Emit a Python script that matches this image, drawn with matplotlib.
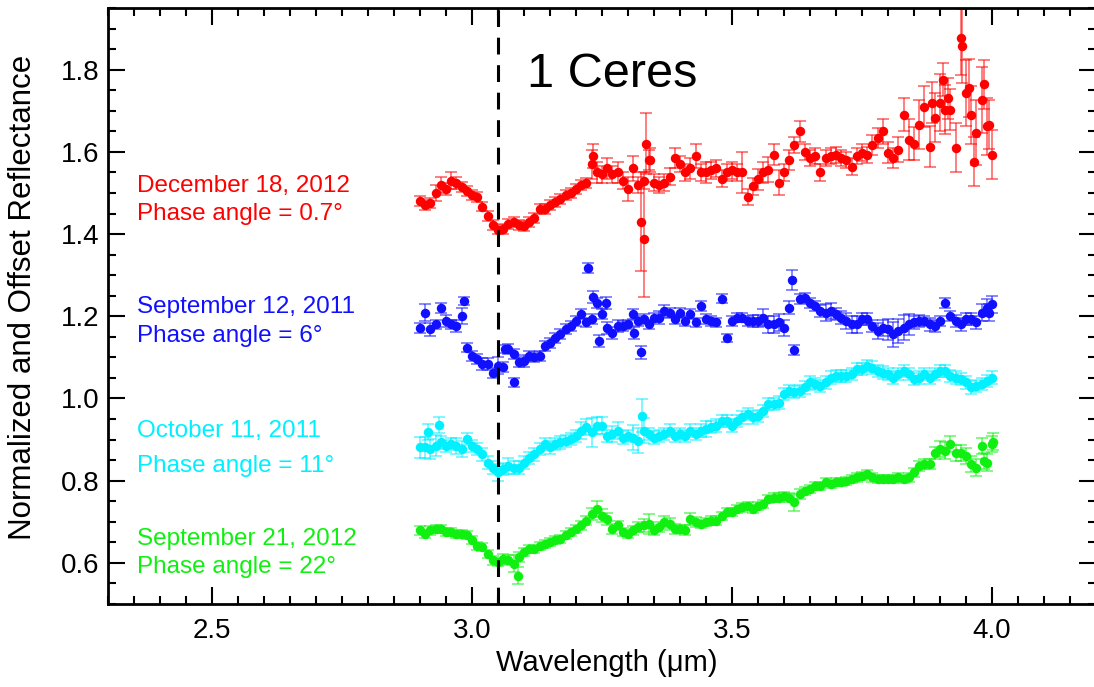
import matplotlib
matplotlib.use('Agg')
import matplotlib.pyplot as plt
from matplotlib.ticker import MultipleLocator

plt.rcParams['font.family'] = ['Liberation Sans', 'DejaVu Sans']

# Wavelength grid (micron)
wavelength = [2.90, 2.91, 2.92, 2.93, 2.94, 2.95, 2.96, 2.97, 2.98, 2.99,
              3.00, 3.01, 3.02, 3.03, 3.04, 3.05, 3.06, 3.07, 3.08, 3.09,
              3.10, 3.11, 3.12, 3.13, 3.14, 3.15, 3.16, 3.17, 3.18, 3.19,
              3.20, 3.21, 3.22, 3.23, 3.24, 3.25, 3.26, 3.27, 3.28, 3.29,
              3.30, 3.31, 3.32, 3.33, 3.34, 3.35, 3.36, 3.37, 3.38, 3.39,
              3.40, 3.41, 3.42, 3.43, 3.44, 3.45, 3.46, 3.47, 3.48, 3.49,
              3.50, 3.51, 3.52, 3.53, 3.54, 3.55, 3.56, 3.57, 3.58, 3.59,
              3.60, 3.61, 3.62, 3.63, 3.64, 3.65, 3.66, 3.67, 3.68, 3.69,
              3.70, 3.71, 3.72, 3.73, 3.74, 3.75, 3.76, 3.77, 3.78, 3.79,
              3.80, 3.81, 3.82, 3.83, 3.84, 3.85, 3.86, 3.87, 3.88, 3.89,
              3.90, 3.91, 3.92, 3.93, 3.94, 3.95, 3.96, 3.97, 3.98, 3.99, 4.00]

# December 18, 2012 (red)
dec2012 = [1.480, 1.470, 1.475, 1.500, 1.520, 1.510, 1.530, 1.525, 1.515, 1.505,
           1.495, 1.490, 1.467, 1.443, 1.423, 1.411, 1.413, 1.425, 1.430, 1.423,
           1.420, 1.430, 1.440, 1.460, 1.460, 1.470, 1.478, 1.485, 1.495, 1.500,
           1.510, 1.520, 1.525, 1.570, 1.550, 1.545, 1.560, 1.545, 1.550, 1.530,
           1.510, 1.560, 1.520, 1.530, 1.580, 1.525, 1.520, 1.525, 1.540, 1.585,
           1.570, 1.550, 1.560, 1.590, 1.550, 1.550, 1.555, 1.560, 1.535, 1.550,
           1.555, 1.550, 1.550, 1.490, 1.516, 1.533, 1.550, 1.557, 1.593, 1.525,
           1.550, 1.580, 1.617, 1.650, 1.600, 1.585, 1.590, 1.550, 1.585, 1.590,
           1.593, 1.585, 1.580, 1.564, 1.590, 1.598, 1.593, 1.617, 1.634, 1.650,
           1.598, 1.585, 1.605, 1.690, 1.630, 1.620, 1.666, 1.710, 1.613, 1.683,
           1.720, 1.703, 1.703, 1.610, 1.877, 1.743, 1.690, 1.647, 1.727, 1.662, 1.593]
dec2012_err = [0.012, 0.012, 0.012, 0.020, 0.020, 0.015, 0.020, 0.015, 0.012, 0.012,
               0.012, 0.012, 0.012, 0.012, 0.012, 0.012, 0.012, 0.012, 0.012, 0.012,
               0.012, 0.012, 0.012, 0.012, 0.012, 0.012, 0.012, 0.012, 0.012, 0.012,
               0.012, 0.012, 0.012, 0.035, 0.025, 0.020, 0.025, 0.020, 0.025, 0.020,
               0.030, 0.030, 0.020, 0.020, 0.025, 0.020, 0.020, 0.020, 0.020, 0.025,
               0.020, 0.020, 0.025, 0.030, 0.020, 0.025, 0.020, 0.020, 0.020, 0.020,
               0.020, 0.020, 0.050, 0.020, 0.020, 0.025, 0.025, 0.030, 0.025, 0.030,
               0.020, 0.025, 0.020, 0.025, 0.020, 0.020, 0.020, 0.020, 0.020, 0.020,
               0.020, 0.020, 0.020, 0.020, 0.020, 0.020, 0.020, 0.025, 0.025, 0.030,
               0.025, 0.025, 0.030, 0.040, 0.050, 0.040, 0.060, 0.050, 0.050, 0.060,
               0.070, 0.060, 0.050, 0.060, 0.090, 0.080, 0.070, 0.080, 0.080, 0.070, 0.060]
dec2012_extra_wl = [3.232, 3.325, 3.330, 3.334, 3.342, 3.885, 3.905, 3.915, 3.942, 3.955, 3.965, 3.985, 3.995]
dec2012_extra = [1.590, 1.430, 1.387, 1.620, 1.580, 1.720, 1.776, 1.730, 1.857, 1.756, 1.576, 1.764, 1.666]
dec2012_extra_err = [0.030, 0.120, 0.140, 0.075, 0.030, 0.050, 0.040, 0.050, 0.090, 0.070, 0.060, 0.060, 0.060]

# September 12, 2011 (blue)
sep2011 = [1.171, 1.209, 1.168, 1.180, 1.220, 1.188, 1.180, 1.176, 1.201, 1.124,
           1.104, 1.096, 1.084, 1.084, 1.063, 1.080, 1.076, 1.121, 1.108, 1.088,
           1.092, 1.104, 1.100, 1.104, 1.128, 1.136, 1.148, 1.156, 1.168, 1.176,
           1.188, 1.205, 1.185, 1.193, 1.233, 1.205, 1.172, 1.160, 1.176, 1.176,
           1.180, 1.205, 1.188, 1.193, 1.180, 1.197, 1.197, 1.213, 1.209, 1.193,
           1.209, 1.188, 1.205, 1.185, 1.225, 1.193, 1.188, 1.185, 1.243, 1.148,
           1.188, 1.197, 1.197, 1.188, 1.188, 1.188, 1.197, 1.180, 1.180, 1.185,
           1.172, 1.221, 1.117, 1.241, 1.245, 1.233, 1.225, 1.213, 1.209, 1.213,
           1.205, 1.197, 1.188, 1.180, 1.180, 1.193, 1.193, 1.176, 1.164, 1.172,
           1.168, 1.156, 1.164, 1.172, 1.180, 1.185, 1.188, 1.188, 1.180, 1.176,
           1.188, 1.233, 1.201, 1.188, 1.180, 1.193, 1.193, 1.185, 1.209, 1.221, 1.229]
sep2011_err = [0.012, 0.020, 0.015, 0.012, 0.012, 0.015, 0.012, 0.015, 0.020, 0.012,
               0.012, 0.012, 0.015, 0.015, 0.012, 0.020, 0.012, 0.012, 0.012, 0.012,
               0.015, 0.012, 0.012, 0.012, 0.012, 0.012, 0.012, 0.012, 0.012, 0.012,
               0.012, 0.012, 0.012, 0.012, 0.012, 0.012, 0.015, 0.015, 0.015, 0.012,
               0.012, 0.012, 0.012, 0.012, 0.012, 0.012, 0.015, 0.015, 0.012, 0.012,
               0.012, 0.012, 0.012, 0.012, 0.012, 0.012, 0.012, 0.012, 0.010, 0.010,
               0.012, 0.012, 0.012, 0.012, 0.015, 0.015, 0.020, 0.020, 0.020, 0.020,
               0.020, 0.015, 0.012, 0.012, 0.012, 0.012, 0.012, 0.015, 0.020, 0.020,
               0.015, 0.015, 0.020, 0.020, 0.020, 0.015, 0.015, 0.015, 0.020, 0.020,
               0.025, 0.030, 0.030, 0.030, 0.025, 0.015, 0.015, 0.012, 0.015, 0.015,
               0.012, 0.012, 0.012, 0.015, 0.015, 0.015, 0.015, 0.015, 0.020, 0.020, 0.020]
sep2011_extra_wl = [2.985, 3.063, 3.080, 3.224, 3.232, 3.245, 3.258, 3.312, 3.325, 3.615, 3.995]
sep2011_extra = [1.237, 1.121, 1.039, 1.317, 1.247, 1.140, 1.233, 1.160, 1.112, 1.288, 1.209]
sep2011_extra_err = [0.010, 0.010, 0.010, 0.012, 0.015, 0.015, 0.015, 0.015, 0.015, 0.025, 0.020]

# October 11, 2011 (cyan)
oct2011 = [0.881, 0.881, 0.877, 0.885, 0.893, 0.885, 0.889, 0.885, 0.877, 0.901,
           0.885, 0.877, 0.864, 0.844, 0.832, 0.820, 0.828, 0.836, 0.832, 0.832,
           0.844, 0.856, 0.864, 0.877, 0.889, 0.881, 0.889, 0.893, 0.897, 0.901,
           0.909, 0.922, 0.930, 0.918, 0.934, 0.934, 0.909, 0.914, 0.922, 0.905,
           0.909, 0.905, 0.897, 0.922, 0.914, 0.905, 0.909, 0.914, 0.922, 0.909,
           0.914, 0.909, 0.922, 0.914, 0.922, 0.926, 0.930, 0.934, 0.946, 0.946,
           0.934, 0.946, 0.954, 0.962, 0.954, 0.958, 0.970, 0.986, 0.986, 0.990,
           1.011, 1.019, 1.015, 1.019, 1.027, 1.039, 1.035, 1.031, 1.039, 1.051,
           1.055, 1.055, 1.055, 1.059, 1.071, 1.071, 1.079, 1.075, 1.067, 1.063,
           1.059, 1.051, 1.059, 1.067, 1.059, 1.047, 1.051, 1.059, 1.051, 1.059,
           1.067, 1.067, 1.055, 1.051, 1.047, 1.039, 1.027, 1.031, 1.035, 1.043, 1.051]
oct2011_err = [0.025, 0.025, 0.025, 0.025, 0.015, 0.015, 0.015, 0.020, 0.020, 0.015,
               0.015, 0.015, 0.015, 0.015, 0.015, 0.020, 0.015, 0.020, 0.015, 0.015,
               0.015, 0.015, 0.015, 0.015, 0.015, 0.015, 0.015, 0.015, 0.015, 0.015,
               0.015, 0.020, 0.020, 0.035, 0.020, 0.020, 0.015, 0.020, 0.020, 0.015,
               0.015, 0.030, 0.030, 0.030, 0.015, 0.015, 0.015, 0.015, 0.015, 0.015,
               0.015, 0.015, 0.015, 0.015, 0.015, 0.020, 0.015, 0.015, 0.015, 0.015,
               0.015, 0.015, 0.015, 0.015, 0.015, 0.015, 0.015, 0.015, 0.015, 0.015,
               0.015, 0.015, 0.015, 0.015, 0.015, 0.015, 0.015, 0.015, 0.015, 0.015,
               0.015, 0.015, 0.015, 0.015, 0.015, 0.015, 0.015, 0.015, 0.015, 0.015,
               0.015, 0.015, 0.015, 0.015, 0.015, 0.015, 0.015, 0.015, 0.015, 0.015,
               0.015, 0.015, 0.015, 0.015, 0.015, 0.015, 0.015, 0.015, 0.015, 0.015, 0.015]
oct2011_extra_wl = [2.915, 2.937, 3.326]
oct2011_extra = [0.918, 0.935, 0.958]
oct2011_extra_err = [0.020, 0.020, 0.040]

# September 21, 2012 (green)
sep2012 = [0.679, 0.671, 0.679, 0.683, 0.683, 0.675, 0.675, 0.671, 0.671, 0.667,
           0.655, 0.642, 0.638, 0.622, 0.606, 0.602, 0.610, 0.606, 0.598, 0.614,
           0.626, 0.634, 0.634, 0.642, 0.646, 0.650, 0.655, 0.659, 0.667, 0.675,
           0.683, 0.691, 0.703, 0.719, 0.731, 0.715, 0.707, 0.683, 0.691, 0.675,
           0.671, 0.679, 0.687, 0.691, 0.695, 0.679, 0.687, 0.699, 0.695, 0.683,
           0.683, 0.679, 0.707, 0.699, 0.695, 0.699, 0.703, 0.703, 0.715, 0.723,
           0.723, 0.731, 0.735, 0.739, 0.731, 0.739, 0.743, 0.755, 0.759, 0.759,
           0.763, 0.759, 0.747, 0.767, 0.775, 0.779, 0.787, 0.787, 0.796, 0.792,
           0.796, 0.796, 0.800, 0.804, 0.808, 0.812, 0.816, 0.808, 0.804, 0.804,
           0.804, 0.804, 0.808, 0.804, 0.808, 0.820, 0.836, 0.840, 0.840, 0.868,
           0.877, 0.873, 0.889, 0.868, 0.868, 0.860, 0.840, 0.832, 0.885, 0.844, 0.889]
sep2012_err = [0.010, 0.010, 0.010, 0.010, 0.010, 0.010, 0.010, 0.010, 0.010, 0.010,
               0.010, 0.010, 0.010, 0.010, 0.010, 0.010, 0.012, 0.012, 0.020, 0.012,
               0.010, 0.010, 0.010, 0.010, 0.010, 0.010, 0.010, 0.010, 0.010, 0.010,
               0.010, 0.010, 0.010, 0.015, 0.020, 0.015, 0.015, 0.012, 0.012, 0.010,
               0.010, 0.010, 0.012, 0.015, 0.025, 0.012, 0.012, 0.015, 0.015, 0.012,
               0.010, 0.012, 0.015, 0.012, 0.010, 0.010, 0.010, 0.010, 0.010, 0.010,
               0.010, 0.010, 0.010, 0.010, 0.010, 0.010, 0.010, 0.010, 0.010, 0.010,
               0.010, 0.012, 0.020, 0.012, 0.010, 0.010, 0.010, 0.010, 0.010, 0.010,
               0.010, 0.010, 0.010, 0.010, 0.010, 0.010, 0.010, 0.010, 0.010, 0.010,
               0.010, 0.010, 0.010, 0.010, 0.010, 0.010, 0.012, 0.012, 0.012, 0.015,
               0.020, 0.020, 0.020, 0.020, 0.020, 0.020, 0.020, 0.020, 0.020, 0.020, 0.020]
sep2012_extra_wl = [3.089, 3.985, 4.002]
sep2012_extra = [0.569, 0.848, 0.895]
sep2012_extra_err = [0.020, 0.020, 0.020]

# Annotation labels
labels = [("December 18, 2012", "Phase angle = 0.7°"),
          ("September 12, 2011", "Phase angle = 6°"),
          ("October 11, 2011", "Phase angle = 11°"),
          ("September 21, 2012", "Phase angle = 22°")]
label_y = [(1.518, 1.450), (1.222, 1.151), (0.920, 0.835), (0.658, 0.590)]
colors = ['#ff0000', '#1010ff', '#00f0ff', '#10f010']

series = [
    (dec2012, dec2012_err, dec2012_extra_wl, dec2012_extra, dec2012_extra_err),
    (sep2011, sep2011_err, sep2011_extra_wl, sep2011_extra, sep2011_extra_err),
    (oct2011, oct2011_err, oct2011_extra_wl, oct2011_extra, oct2011_extra_err),
    (sep2012, sep2012_err, sep2012_extra_wl, sep2012_extra, sep2012_extra_err),
]

fig = plt.figure(figsize=(10.94, 6.87), dpi=100)
ax = fig.add_axes([108 / 1094, 83 / 687, 988 / 1094, 596 / 687])

for (vals, errs, xw, xv, xe), col in zip(series, colors):
    allx = list(wavelength) + list(xw)
    ally = list(vals) + list(xv)
    alle = list(errs) + list(xe)
    ax.errorbar(allx, ally, yerr=alle, fmt='none', ecolor=col, alpha=0.5,
                elinewidth=1.4, capsize=4, capthick=1.4, zorder=2)
    ax.plot(allx, ally, 'o', color=col, ms=6.8, mec='none', zorder=3)

ax.axvline(3.05, color='black', lw=2.2, ls=(0, (5.5, 3.5)), zorder=4)

for (l1, l2), (y1, y2), col in zip(labels, label_y, colors):
    ax.text(2.356, y1, l1, color=col, fontsize=17.5, ha='left', va='center')
    ax.text(2.356, y2, l2, color=col, fontsize=17.5, ha='left', va='center')

ax.text(3.106, 1.788, "1 Ceres", fontsize=35, ha='left', va='center', color='black')

ax.set_xlim(2.3, 4.2)
ax.set_ylim(0.5, 1.95)
ax.xaxis.set_major_locator(MultipleLocator(0.5))
ax.xaxis.set_minor_locator(MultipleLocator(0.05))
ax.yaxis.set_major_locator(MultipleLocator(0.2))
ax.yaxis.set_minor_locator(MultipleLocator(0.05))
ax.xaxis.set_major_formatter(matplotlib.ticker.FormatStrFormatter('%.1f'))
ax.yaxis.set_major_formatter(matplotlib.ticker.FormatStrFormatter('%.1f'))
ax.tick_params(which='both', direction='in', top=True, right=True, width=1.5)
ax.tick_params(which='major', length=12, labelsize=20)
ax.tick_params(axis='x', which='major', pad=10)
ax.tick_params(axis='y', which='major', pad=6)
ax.tick_params(which='minor', length=6)
for s in ax.spines.values():
    s.set_linewidth(2)

ax.set_xlabel("Wavelength (μm)", fontsize=21)
ax.set_ylabel("Normalized and Offset Reflectance", fontsize=22.5)
ax.xaxis.set_label_coords(0.505, -0.075)
ax.yaxis.set_label_coords(-0.071, 0.515)

fig.savefig('out.png', dpi=100)
